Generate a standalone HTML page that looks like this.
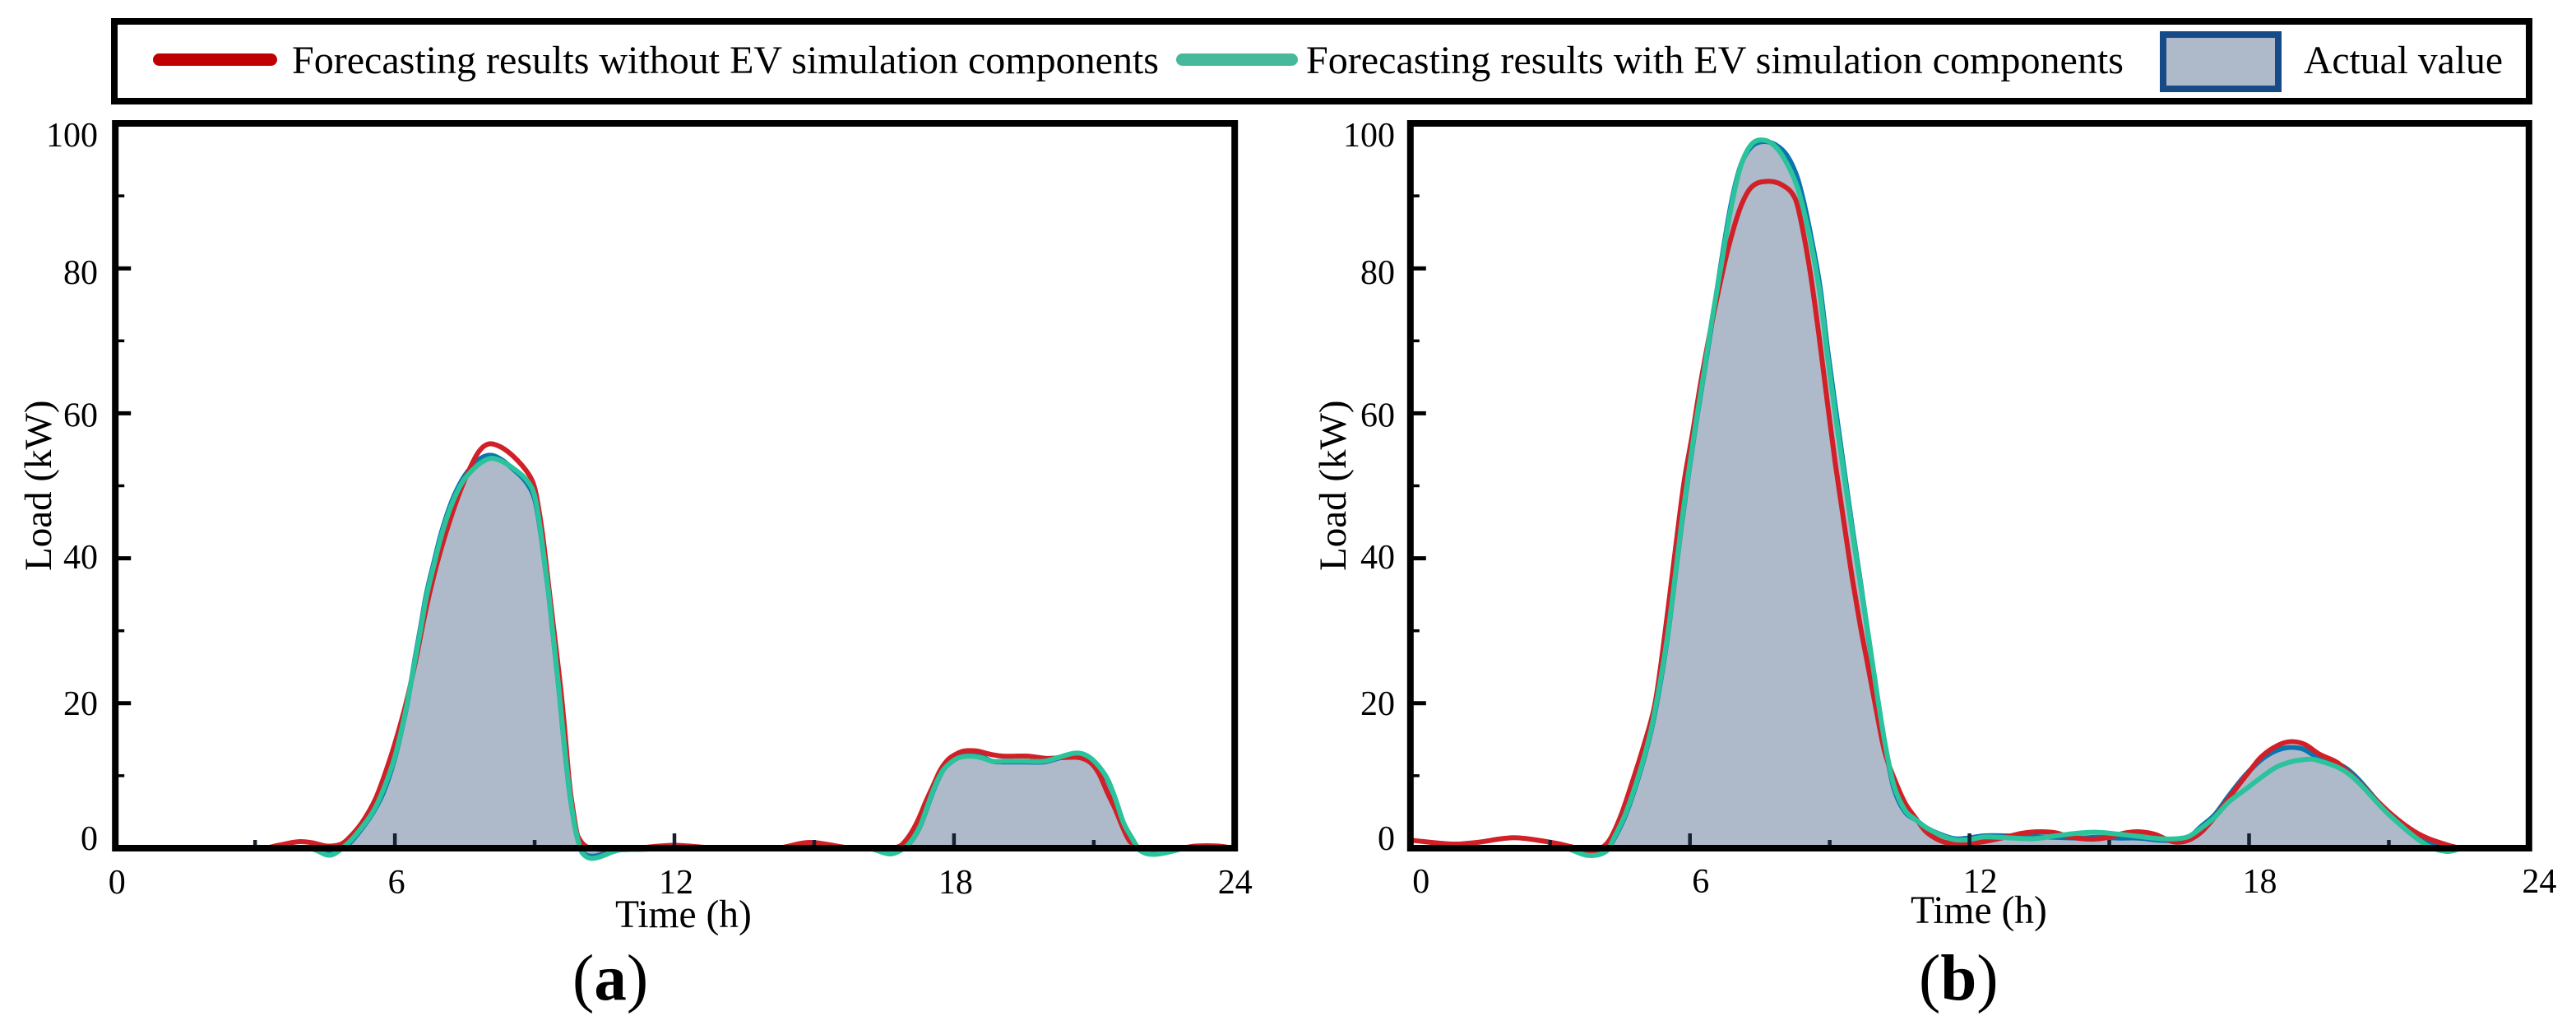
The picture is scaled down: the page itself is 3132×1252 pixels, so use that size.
<!DOCTYPE html>
<html lang="en">
<head>
<meta charset="utf-8">
<title>Load forecasting comparison</title>
<style>
html,body{margin:0;padding:0;background:#fff;}
svg{display:block;}
text{font-family:"Liberation Serif",serif;fill:#000;}
</style>
</head>
<body>
<svg id="chart" xmlns="http://www.w3.org/2000/svg" width="3132" height="1252" viewBox="0 0 3132 1252">
  <rect x="0" y="0" width="3132" height="1252" fill="#fff"/>
  <g id="plots"></g>
  <g>
    <rect x="139" y="26" width="2936" height="97" fill="none" stroke="#000" stroke-width="8"/>
    <line x1="193.500" y1="72.500" x2="329.500" y2="72.500" stroke="#c00000" stroke-width="15" stroke-linecap="round"/>
    <text x="355" y="89" font-size="48" textLength="1054" lengthAdjust="spacingAndGlyphs">Forecasting results without EV simulation components</text>
    <line x1="1437.500" y1="72.500" x2="1570.500" y2="72.500" stroke="#47b99b" stroke-width="15" stroke-linecap="round"/>
    <text x="1588" y="89" font-size="48" textLength="994" lengthAdjust="spacingAndGlyphs">Forecasting results with EV simulation components</text>
    <rect x="2630" y="42" width="140" height="66" fill="#aebaca" stroke="#164b87" stroke-width="8"/>
    <text x="2801" y="89" font-size="48" textLength="242" lengthAdjust="spacingAndGlyphs">Actual value</text>
  </g>
  <text x="696" y="1215" font-size="79">(<tspan font-weight="bold">a</tspan>)</text>
  <text x="2333" y="1215" font-size="79">(<tspan font-weight="bold">b</tspan>)</text>
</svg>
<script>
const yMajorTicks = [0, 20, 40, 60, 80, 100];
const yMinorTicks = [10, 30, 50, 70, 90];
const xMajorTicks = [0, 6, 12, 18, 24];
const xMinorTicks = [3, 9, 15, 21];

const panelAHours = [
  0,4.2,4.62,4.99,5.23,5.53,5.76,5.99,6.17,6.29,
  6.44,6.56,6.67,6.82,7,7.23,7.46,7.7,7.9,8.08,
  8.29,8.52,8.77,8.94,9.03,9.14,9.29,9.4,9.52,9.61,
  9.73,9.82,9.91,10.02,10.26,10.88,16.2,16.63,16.93,17.11,
  17.28,17.43,17.58,17.76,17.93,18.11,18.34,18.58,18.82,19.05,
  19.52,19.93,20.23,20.58,20.81,21.04,21.29,21.46,21.64,21.82,
  21.99,22.28,22.7,22.95,24
];
const panelAWithEv = [
  0,-.1,-.95,.68,2.38,5.03,8.2,12.4,17.1,20.9,
  26.2,30.4,34.5,38.6,43.2,47.6,50.6,52.4,53.4,53.8,
  53.4,52.5,51.2,49.7,47.8,43.2,35.7,29.2,22,16,
  8.8,4.65,1.63,-.64,-1.4,-.2,-.1,-.8,0,1.25,
  3.14,5.8,8.4,10.7,11.8,12.5,12.7,12.5,12,12,
  12,12,12.5,13.1,12.9,11.8,9.6,6.9,3.5,1.4,
  -.3,-.85,-.4,0,0
];
const panelAActual = [
  0,-.1,-.5,.5,2.2,4.9,7.8,12.2,17,20.8,
  26.5,30.8,34.9,39,43.6,48,51,53,54,54.2,
  53.6,52.4,50.9,49.2,47.4,43,35.6,29.1,21.9,15.9,
  8.7,4.6,1.6,-.5,-1.1,-.2,0,-.5,0,1.2,
  3.1,5.7,8.3,10.7,11.9,12.6,13,12.7,12,11.9,
  11.9,11.9,12.4,13,12.8,11.7,9.5,6.8,3.4,1.3,
  -.2,-.6,-.3,0,0
];
const panelARedHours = [
  0,3.17,3.5,3.93,4.23,4.53,4.82,4.99,5.29,5.59,
  5.87,6.12,6.29,6.47,6.61,6.76,6.97,7.2,7.41,7.58,
  7.76,7.9,8.06,8.29,8.52,8.77,8.94,9.03,9.17,9.31,
  9.43,9.56,9.65,9.75,9.84,9.93,10.2,11.1,12,12.9,
  14.2,14.9,15.8,16.5,16.84,17.05,17.23,17.4,17.55,17.7,
  17.87,18.05,18.22,18.49,18.75,19.05,19.58,19.98,20.34,20.69,
  20.93,21.11,21.29,21.46,21.64,21.78,22,22.85,23.2,23.65,24
];
const panelAWithoutEv = [
  0,0,.4,.9,.75,.3,.5,1.25,3.5,6.9,
  11.8,17.1,21.3,26.6,31.2,35.6,40.8,45.6,49.4,52,
  54.3,55.4,55.8,55.3,54.2,52.5,50.8,48.9,43.3,35.7,
  29.2,22,16,8.8,4.65,1.63,0,0,.4,0,
  0,.8,0,0,.3,1.8,3.9,6.5,8.6,10.7,
  12.2,13,13.4,13.4,13,12.7,12.7,12.4,12.5,12.5,
  11.8,10.3,7.7,5.4,2.6,.9,0,0,.3,.3,0
];

const panelBHours = [
  0,3.3,3.81,4.21,4.38,4.62,4.91,5.15,5.33,5.51,
  5.68,5.82,5.97,6.12,6.3,6.47,6.67,6.88,7.09,7.32,
  7.59,7.85,8.08,8.29,8.43,8.61,8.79,8.96,9.14,9.32,
  9.49,9.67,9.85,10.02,10.2,10.38,10.62,10.85,11.08,11.38,
  11.68,11.97,12.32,12.79,13.38,13.85,14.33,14.73,15.21,15.62,
  16.09,16.45,16.71,16.97,17.26,17.56,17.91,18.26,18.56,18.85,
  19.15,19.43,20.13,21,21.8,22.25,22.6,24
];
const panelBWithEv = [
  0,0,-1,-.4,1.56,4.8,10.3,15.9,21.8,28.9,
  37.4,44.8,51.8,58.4,65.6,72.8,80.4,88.3,94.1,97.1,
  97.7,96.7,94.5,91.5,88.3,83.1,76.5,67.5,59,51,
  43.5,36,28.5,21.1,14,8.6,5.2,3.9,2.8,1.8,
  1.17,1.17,1.55,1.44,1.3,1.7,2.08,2.2,1.93,1.63,
  1.3,1.3,1.63,2.76,4.27,6.36,8.06,9.76,11.1,11.84,
  12.2,12.2,10.3,4.65,.45,-.45,0,0
];
const panelBActual = [
  0,0,-.5,-.3,1.4,4.6,10.1,15.7,21.5,28.7,
  37.3,44.6,51.6,58.2,65.4,72.4,80.8,88.8,94.2,96.8,
  97.5,97,95.6,92.8,89.5,84,77.5,68.5,60,51.7,
  44,36.3,28.3,21,13.8,8.2,5,3.9,2.8,1.9,
  1.3,1.4,1.7,1.7,1.6,1.5,1.4,1.5,1.4,1.4,
  1.1,1.1,1.5,3,4.6,7.2,10,12.2,13.4,13.9,
  13.7,12.7,10.8,4.8,.8,0,0,0
];
const panelBRedHours = [
  0,.9,1.43,2.22,3.02,3.45,3.81,4.21,4.5,4.79,
  5.03,5.24,5.38,5.56,5.74,5.88,6.05,6.23,6.44,6.65,
  6.85,7.09,7.32,7.64,7.98,8.26,8.41,8.59,8.77,8.95,
  9.12,9.3,9.48,9.65,9.83,10,10.18,10.41,10.62,10.85,
  11.08,11.44,11.79,12.14,12.44,12.79,13.15,13.5,13.85,14.15,
  14.62,15.03,15.32,15.62,15.97,16.38,16.68,16.97,17.26,17.61,
  17.97,18.26,18.62,18.91,19.2,19.5,19.96,21,21.63,22.25,22.6,24
];
const panelBWithoutEv = [
  1.1,.57,.8,1.45,.8,.2,-.45,.6,4.2,9.7,
  14.6,19.6,25.5,34.6,44,50.8,57,64.2,71.5,78,
  83.5,88.5,91.2,92,91.5,89.6,85.7,79.1,70.7,61.5,
  53.1,45.2,37.4,30.9,24.8,19,13.3,9.2,6.2,4.1,
  2.2,.87,.6,.76,1.06,1.55,2.08,2.27,2.12,1.55,
  1.25,1.55,2.08,2.27,1.93,.87,1.06,2.2,4.27,7.3,
  10.3,12.6,14.2,14.7,14.3,13,11.5,5,2,.45,0,0
];

const NS = 'http://www.w3.org/2000/svg';
const plotsRoot = document.getElementById('plots');
const Y_ZERO = 1031;
const Y_PER_KW = 8.81;
const X_PER_HOUR = 56.65;

function yScale(v) { return Y_ZERO - v * Y_PER_KW; }

function curvePath(hours, values, xScale) {
  const n = Math.min(hours.length, values.length);
  const slope = [];
  for (let i = 0; i < n; i++) {
    const a = Math.max(i - 1, 0);
    const b = Math.min(i + 1, n - 1);
    slope.push((values[b] - values[a]) / (hours[b] - hours[a]));
  }
  let d = 'M' + xScale(hours[0]).toFixed(1) + ' ' + yScale(values[0]).toFixed(1);
  for (let i = 0; i < n - 1; i++) {
    const step = (hours[i + 1] - hours[i]) / 3;
    d += ' C' + xScale(hours[i] + step).toFixed(1) + ' ' + yScale(values[i] + slope[i] * step).toFixed(1) +
         ' ' + xScale(hours[i + 1] - step).toFixed(1) + ' ' + yScale(values[i + 1] - slope[i + 1] * step).toFixed(1) +
         ' ' + xScale(hours[i + 1]).toFixed(1) + ' ' + yScale(values[i + 1]).toFixed(1);
  }
  return d;
}

function yLabelNudge(v) {
  if (v === 100) return 28;
  if (v === 80) return 19;
  if (v === 60) return 16;
  if (v === 40) return 12.4;
  if (v === 20) return 14;
  return 2;
}

function drawPanel(cfg) {
  const xScale = function (h) { return cfg.x0 + h * X_PER_HOUR; };
  const group = document.createElementNS(NS, 'g');
  
  
  plotsRoot.appendChild(group);

  const area = document.createElementNS(NS, 'path');
  
  
  area.setAttribute('d', curvePath(cfg.hours, cfg.actual, xScale) + ' L' + xScale(24) + ' ' + Y_ZERO + ' L' + xScale(0) + ' ' + Y_ZERO + ' Z');
  area.setAttribute('fill', '#aeb9ca');
  group.appendChild(area);

  const actualLine = document.createElementNS(NS, 'path');
  
  
  actualLine.setAttribute('d', curvePath(cfg.hours, cfg.actual, xScale));
  actualLine.setAttribute('fill', 'none');
  actualLine.setAttribute('stroke', '#0a74af');
  actualLine.setAttribute('stroke-width', '6');
  group.appendChild(actualLine);

  const redLine = document.createElementNS(NS, 'path');
  
  
  redLine.setAttribute('d', curvePath(cfg.redHours, cfg.withoutEv, xScale));
  redLine.setAttribute('fill', 'none');
  redLine.setAttribute('stroke', '#d12027');
  redLine.setAttribute('stroke-width', '6');
  group.appendChild(redLine);

  const tealLine = document.createElementNS(NS, 'path');
  
  
  tealLine.setAttribute('d', curvePath(cfg.hours, cfg.withEv, xScale));
  tealLine.setAttribute('fill', 'none');
  tealLine.setAttribute('stroke', '#2ac39b');
  tealLine.setAttribute('stroke-width', '6');
  group.appendChild(tealLine);

  xMajorTicks.forEach(function (h) {
    if (h === 0 || h === 24) return;
    const t = document.createElementNS(NS, 'line');
    
    
    t.setAttribute('x1', xScale(h));
    t.setAttribute('x2', xScale(h));
    t.setAttribute('y1', Y_ZERO);
    t.setAttribute('y2', Y_ZERO - 18);
    t.setAttribute('stroke', '#141f30');
    t.setAttribute('stroke-width', '4.5');
    group.appendChild(t);
  });
  xMinorTicks.forEach(function (h) {
    const t = document.createElementNS(NS, 'line');
    
    
    t.setAttribute('x1', xScale(h));
    t.setAttribute('x2', xScale(h));
    t.setAttribute('y1', Y_ZERO);
    t.setAttribute('y2', Y_ZERO - 10);
    t.setAttribute('stroke', '#141f30');
    t.setAttribute('stroke-width', '4.5');
    group.appendChild(t);
  });
  yMajorTicks.forEach(function (v) {
    if (v !== 0 && v !== 100) {
      const t = document.createElementNS(NS, 'line');
      
      
      t.setAttribute('x1', cfg.x0);
      t.setAttribute('x2', cfg.x0 + 19);
      t.setAttribute('y1', yScale(v));
      t.setAttribute('y2', yScale(v));
      t.setAttribute('stroke', '#000');
      t.setAttribute('stroke-width', '5');
      group.appendChild(t);
    }
    const label = document.createElementNS(NS, 'text');
    
    
    label.setAttribute('x', cfg.yLabelX);
    label.setAttribute('y', yScale(v) + yLabelNudge(v));
    label.setAttribute('text-anchor', 'end');
    label.setAttribute('font-size', '42');
    label.textContent = String(v);
    group.appendChild(label);
  });
  yMinorTicks.forEach(function (v) {
    const t = document.createElementNS(NS, 'line');
    
    
    t.setAttribute('x1', cfg.x0);
    t.setAttribute('x2', cfg.x0 + 11);
    t.setAttribute('y1', yScale(v));
    t.setAttribute('y2', yScale(v));
    t.setAttribute('stroke', '#000');
    t.setAttribute('stroke-width', '3.5');
    group.appendChild(t);
  });
  xMajorTicks.forEach(function (h) {
    const label = document.createElementNS(NS, 'text');
    
    
    label.setAttribute('x', xScale(h) + cfg.xLabelShift);
    label.setAttribute('y', cfg.xLabelY);
    label.setAttribute('text-anchor', 'middle');
    label.setAttribute('font-size', '42');
    label.textContent = String(h);
    group.appendChild(label);
  });

  const frame = document.createElementNS(NS, 'rect');
  
  
  frame.setAttribute('x', cfg.x0);
  frame.setAttribute('y', yScale(100));
  frame.setAttribute('width', cfg.frameWidth);
  frame.setAttribute('height', Y_ZERO - yScale(100));
  frame.setAttribute('fill', 'none');
  frame.setAttribute('stroke', '#000');
  frame.setAttribute('stroke-width', '8');
  group.appendChild(frame);

  const xTitle = document.createElementNS(NS, 'text');
  
  
  xTitle.setAttribute('x', cfg.xTitleX);
  xTitle.setAttribute('y', cfg.xTitleY);
  xTitle.setAttribute('font-size', '47.500');
  xTitle.textContent = 'Time (h)';
  group.appendChild(xTitle);

  const yTitle = document.createElementNS(NS, 'text');
  
  
  yTitle.setAttribute('transform', 'translate(' + cfg.yTitleX + ' 694) rotate(-90)');
  yTitle.setAttribute('font-size', '47');
  yTitle.textContent = 'Load (kW)';
  group.appendChild(yTitle);
}

drawPanel({
  name: 'panel-a', x0: 140.2, frameWidth: 1361, hours: panelAHours, redHours: panelARedHours,
  actual: panelAActual, withEv: panelAWithEv, withoutEv: panelAWithoutEv,
  yLabelX: 119, xLabelShift: 2, xLabelY: 1086, xTitleX: 748, xTitleY: 1127, yTitleX: 62
});
drawPanel({
  name: 'panel-b', x0: 1714.8, frameWidth: 1360, hours: panelBHours, redHours: panelBRedHours,
  actual: panelBActual, withEv: panelBWithEv, withoutEv: panelBWithoutEv,
  yLabelX: 1696, xLabelShift: 13, xLabelY: 1085, xTitleX: 2323, xTitleY: 1122, yTitleX: 1636
});
</script>
</body>
</html>
